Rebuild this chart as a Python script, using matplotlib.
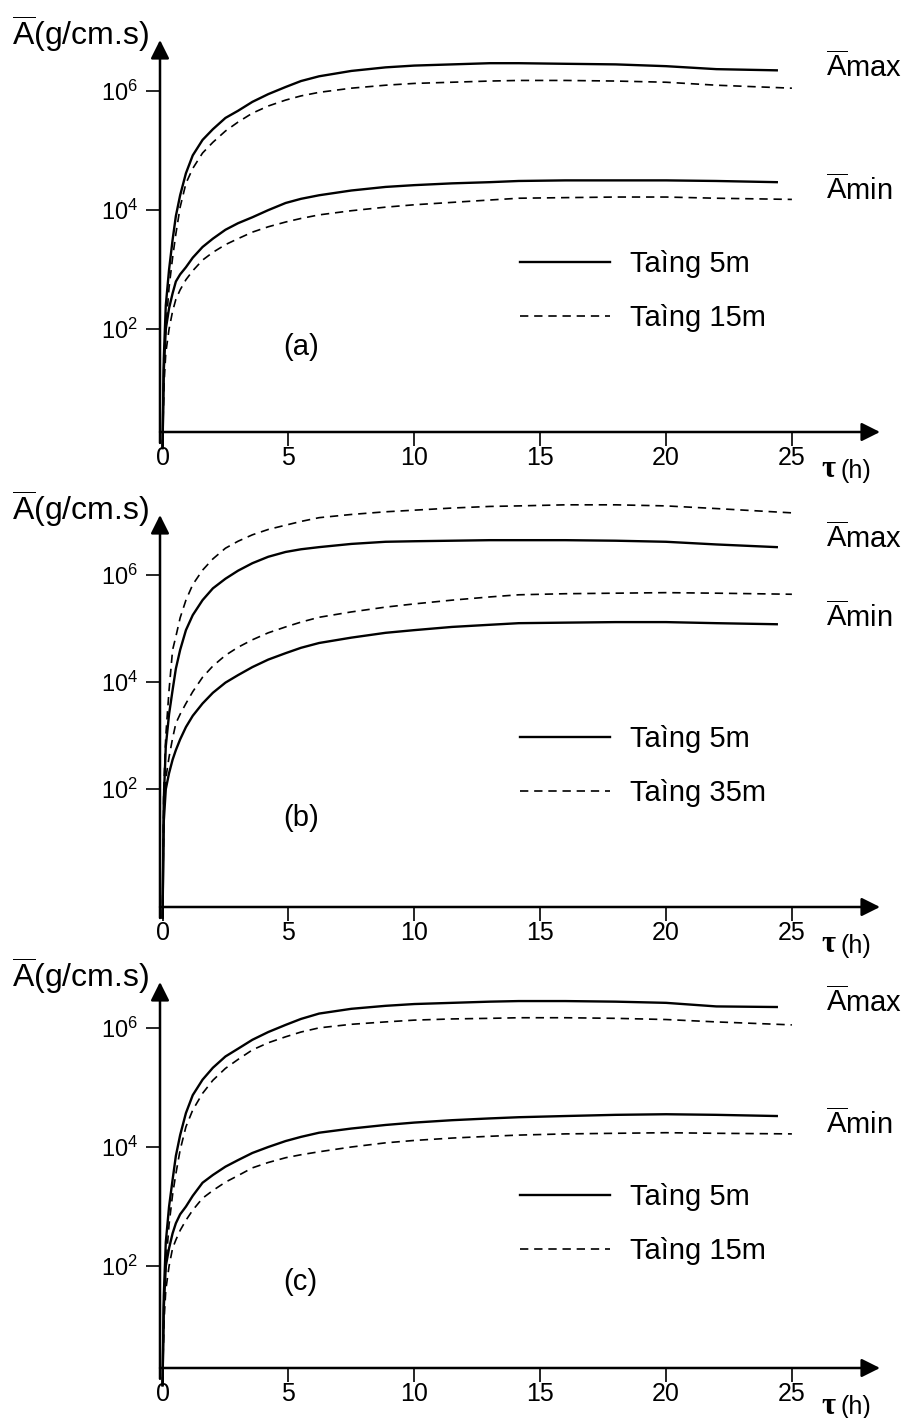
import numpy as np
import matplotlib
matplotlib.use('Agg')
import matplotlib.pyplot as plt

plt.rcParams['font.family'] = ['Liberation Sans', 'DejaVu Sans']
plt.rcParams['mathtext.fontset'] = 'custom'
plt.rcParams['mathtext.rm'] = 'Liberation Sans'
plt.rcParams['mathtext.it'] = 'Liberation Sans'

#data (time in hours, values are log10 of A in g/cm.s)
t_solid = [0, 0.05, 0.13, 0.26, 0.4, 0.53, 0.7, 0.93, 1.2, 1.59, 2.0, 2.5, 3.0, 3.57, 4.2,
           4.89, 5.5, 6.22, 7.5, 8.86, 10, 11.5, 13, 14.15, 16, 18, 20, 22, 24.4]
t_dash = [0, 0.05, 0.13, 0.26, 0.4, 0.53, 0.7, 0.93, 1.2, 1.59, 2.0, 2.5, 3.0, 3.57, 4.2,
          4.89, 5.5, 6.22, 7.5, 8.86, 10, 11.5, 13, 14.15, 16, 18, 20, 22, 25]

#panel a
a_max_5m = [0, 1.5, 2.4, 3.0, 3.5, 3.9, 4.25, 4.62, 4.92, 5.18, 5.36, 5.55, 5.67, 5.82, 5.95,
            6.07, 6.17, 6.25, 6.34, 6.40, 6.43, 6.45, 6.47, 6.47, 6.46, 6.45, 6.42, 6.37, 6.35]
a_max_15m = [0, 1.2, 2.0, 2.7, 3.2, 3.6, 4.05, 4.45, 4.7, 4.96, 5.14, 5.33, 5.48, 5.63, 5.75,
             5.85, 5.92, 5.98, 6.05, 6.10, 6.13, 6.15, 6.17, 6.18, 6.18, 6.17, 6.15, 6.10, 6.05]
a_min_5m = [0, 1.3, 2.0, 2.35, 2.6, 2.8, 2.92, 3.04, 3.2, 3.38, 3.52, 3.67, 3.78, 3.88, 4.0,
            4.12, 4.19, 4.25, 4.33, 4.39, 4.42, 4.45, 4.47, 4.49, 4.50, 4.50, 4.50, 4.49, 4.47]
a_min_15m = [0, 1.0, 1.6, 2.0, 2.3, 2.5, 2.66, 2.83, 2.98, 3.16, 3.29, 3.42, 3.52, 3.63, 3.72,
             3.80, 3.86, 3.92, 3.99, 4.05, 4.09, 4.13, 4.17, 4.20, 4.21, 4.22, 4.22, 4.20, 4.18]

#panel b
b_max_5m = [-0.4, 1.8, 2.8, 3.4, 3.85, 4.25, 4.6, 4.97, 5.25, 5.53, 5.75, 5.93, 6.08, 6.22, 6.34,
            6.43, 6.48, 6.52, 6.58, 6.62, 6.63, 6.64, 6.65, 6.65, 6.65, 6.64, 6.62, 6.57, 6.52]
b_max_35m = [-0.4, 2.0, 3.0, 3.85, 4.6, 4.85, 5.2, 5.53, 5.82, 6.09, 6.3, 6.5, 6.63, 6.75, 6.85,
             6.93, 7.0, 7.07, 7.13, 7.18, 7.21, 7.25, 7.28, 7.29, 7.31, 7.31, 7.29, 7.24, 7.16]
b_min_5m = [-0.4, 1.4, 2.0, 2.3, 2.55, 2.73, 2.93, 3.16, 3.37, 3.6, 3.8, 3.99, 4.13, 4.28, 4.42,
            4.54, 4.64, 4.73, 4.83, 4.92, 4.97, 5.03, 5.07, 5.10, 5.11, 5.12, 5.12, 5.10, 5.08]
b_min_35m = [-0.4, 1.5, 2.2, 2.6, 2.95, 3.23, 3.4, 3.6, 3.82, 4.09, 4.3, 4.5, 4.65, 4.79, 4.92,
             5.03, 5.12, 5.21, 5.31, 5.40, 5.46, 5.53, 5.59, 5.63, 5.65, 5.66, 5.67, 5.66, 5.64]

#panel c
c_max_5m = [0, 1.5, 2.4, 3.0, 3.45, 3.85, 4.2, 4.57, 4.87, 5.13, 5.33, 5.52, 5.65, 5.80, 5.93,
            6.05, 6.15, 6.24, 6.32, 6.37, 6.40, 6.42, 6.44, 6.45, 6.45, 6.44, 6.42, 6.36, 6.35]
c_max_15m = [0, 1.2, 2.0, 2.7, 3.2, 3.55, 3.95, 4.34, 4.62, 4.90, 5.12, 5.32, 5.47, 5.63, 5.75,
             5.85, 5.93, 6.0, 6.06, 6.10, 6.13, 6.15, 6.16, 6.17, 6.17, 6.16, 6.14, 6.10, 6.05]
c_min_5m = [0, 1.3, 2.0, 2.3, 2.55, 2.72, 2.87, 3.0, 3.18, 3.4, 3.53, 3.67, 3.78, 3.90, 4.0,
            4.10, 4.17, 4.24, 4.31, 4.37, 4.41, 4.45, 4.48, 4.50, 4.52, 4.54, 4.55, 4.54, 4.52]
c_min_15m = [0, 1.0, 1.6, 2.0, 2.3, 2.44, 2.6, 2.77, 2.94, 3.14, 3.27, 3.41, 3.52, 3.65, 3.74,
             3.82, 3.87, 3.92, 4.0, 4.07, 4.11, 4.15, 4.18, 4.20, 4.22, 4.23, 4.24, 4.23, 4.22]

x_ticks = [0, 5, 10, 15, 20, 25]
y_ticks = [1e2, 1e4, 1e6]
y_tick_labels = [r'$10^{2}$', r'$10^{4}$', r'$10^{6}$']

W, H = 913, 1418
fig = plt.figure(figsize=(W/100, H/100), dpi=100)

def fx(px):
    return px/W

def fy(py):
    return 1 - py/H

def draw_panel(top, bottom, ylog, curves, legend_labels, tag, tag_y, amax_y, amin_y, leg_y):
    ax = fig.add_axes([fx(160), fy(bottom), fx(880)-fx(160), fy(top)-fy(bottom)])
    ax.set_yscale('log')
    ax.set_xlim(-0.1, 28.5)
    ax.set_ylim(10**ylog[0], 10**ylog[1])
    handles = []
    for vals, style in curves:
        if style == 'solid':
            l, = ax.plot(t_solid, 10**np.asarray(vals), color='k', lw=1.7, clip_on=False,
                         solid_joinstyle='round')
        else:
            l, = ax.plot(t_dash, 10**np.asarray(vals), color='k', lw=1.2, ls=(0, (5, 3.5)),
                         clip_on=False)
        handles.append(l)
    for s in ax.spines.values():
        s.set_visible(False)
    ax.annotate('', xy=(1, 0), xytext=(0, 0), xycoords='axes fraction',
                arrowprops=dict(arrowstyle='-|>', lw=1.8, color='k', mutation_scale=28, shrinkA=0, shrinkB=0))
    ax.annotate('', xy=(0, 1), xytext=(0, -0.028), xycoords='axes fraction',
                arrowprops=dict(arrowstyle='-|>', lw=1.8, color='k', mutation_scale=28, shrinkA=0, shrinkB=0))
    ax.set_xticks(x_ticks)
    ax.set_xticklabels([str(v) for v in x_ticks], fontsize=18)
    ax.set_yticks(y_ticks)
    ax.set_yticklabels(y_tick_labels, fontsize=17)
    ax.minorticks_off()
    ax.tick_params(axis='x', direction='out', length=10, width=1.2, pad=0)
    ax.tick_params(axis='y', direction='out', length=10, width=1.2, pad=6)
    ax.patch.set_visible(False)

    ax.legend([handles[0], handles[1]], legend_labels, loc='upper left', frameon=False,
              bbox_to_anchor=(fx(520), fy(leg_y)), bbox_transform=fig.transFigure,
              fontsize=21, handlelength=3.1, handletextpad=0.68, labelspacing=0.9,
              borderpad=0, borderaxespad=0)

    fig.text(fx(12), fy(top - 6), r'$\overline{\mathrm{A}}$(g/cm.s)', fontsize=23, va='center')
    fig.text(fx(826), fy(amax_y), r'$\overline{\mathrm{A}}$max', fontsize=21, va='center')
    fig.text(fx(826), fy(amin_y), r'$\overline{\mathrm{A}}$min', fontsize=21, va='center')
    fig.text(fx(821), fy(bottom + 38), 'τ', fontsize=22, fontweight='bold',
             family='Liberation Serif', va='center')
    fig.text(fx(840), fy(bottom + 39), '(h)', fontsize=18, va='center')
    fig.text(fx(283), fy(tag_y), tag, fontsize=21, va='center')
    return ax

draw_panel(40, 432, (0.27, 6.86),
           [(a_max_5m, 'solid'), (a_max_15m, 'dash'), (a_min_5m, 'solid'), (a_min_15m, 'dash')],
           ['Taìng 5m', 'Taìng 15m'], '(a)', 347, 67, 190, 250)
draw_panel(515, 907, (-0.2, 7.12),
           [(b_max_5m, 'solid'), (b_max_35m, 'dash'), (b_min_5m, 'solid'), (b_min_35m, 'dash')],
           ['Taìng 5m', 'Taìng 35m'], '(b)', 818, 538, 617, 725)
draw_panel(982, 1368, (0.29, 6.77),
           [(c_max_5m, 'solid'), (c_max_15m, 'dash'), (c_min_5m, 'solid'), (c_min_15m, 'dash')],
           ['Taìng 5m', 'Taìng 15m'], '(c)', 1282, 1002, 1124, 1183)

fig.savefig('out.png', dpi=100)
